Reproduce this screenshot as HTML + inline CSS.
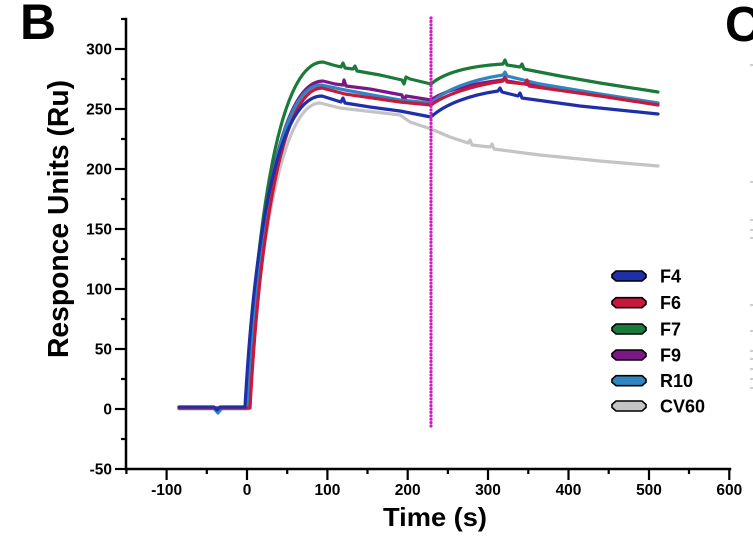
<!DOCTYPE html>
<html>
<head>
<meta charset="utf-8">
<style>
html,body{margin:0;padding:0;background:#fff;}
svg{display:block;}
text{font-family:"Liberation Sans",Arial,sans-serif;font-weight:bold;fill:#000;}
</style>
</head>
<body>
<svg width="753" height="536" viewBox="0 0 753 536" xmlns="http://www.w3.org/2000/svg">
<rect x="0" y="0" width="753" height="536" fill="#fff"/>

<!-- panel letters -->
<text x="20" y="39" font-size="50">B</text>
<text x="725" y="41" font-size="49">C</text>

<!-- faint marks of next panel -->
<g fill="#cfcfcf">
<rect x="750" y="64" width="3" height="2"/>
<rect x="750" y="181" width="3" height="2"/>
<rect x="750" y="219" width="3" height="2"/>
<rect x="750" y="229" width="3" height="2"/>
<rect x="750" y="237" width="3" height="2"/>
<rect x="750" y="304" width="3" height="2"/>
<rect x="750" y="330" width="3" height="2"/>
<rect x="750" y="350" width="3" height="2"/>
<rect x="750" y="358" width="3" height="2"/>
<rect x="750" y="368" width="3" height="2"/>
<rect x="750" y="378" width="3" height="2"/>
<rect x="750" y="387" width="3" height="2"/>
</g>

<!-- axes -->
<g stroke="#000" stroke-width="2.5" fill="none" stroke-linecap="square">
<line x1="126" y1="19" x2="126" y2="469"/>
<line x1="126" y1="469" x2="730" y2="469"/>
</g>
<!-- y ticks -->
<g stroke="#000" stroke-width="2.2">
<line x1="115" y1="49" x2="126" y2="49"/>
<line x1="115" y1="109" x2="126" y2="109"/>
<line x1="115" y1="169" x2="126" y2="169"/>
<line x1="115" y1="229" x2="126" y2="229"/>
<line x1="115" y1="289" x2="126" y2="289"/>
<line x1="115" y1="349" x2="126" y2="349"/>
<line x1="115" y1="409" x2="126" y2="409"/>
<line x1="115" y1="469" x2="126" y2="469"/>
<line x1="121" y1="19" x2="126" y2="19"/>
<line x1="121" y1="79" x2="126" y2="79"/>
<line x1="121" y1="139" x2="126" y2="139"/>
<line x1="121" y1="199" x2="126" y2="199"/>
<line x1="121" y1="259" x2="126" y2="259"/>
<line x1="121" y1="319" x2="126" y2="319"/>
<line x1="121" y1="379" x2="126" y2="379"/>
<line x1="121" y1="439" x2="126" y2="439"/>
</g>
<!-- x ticks -->
<g stroke="#000" stroke-width="2.2">
<line x1="166.6" y1="469" x2="166.6" y2="480"/>
<line x1="247" y1="469" x2="247" y2="480"/>
<line x1="327.4" y1="469" x2="327.4" y2="480"/>
<line x1="407.7" y1="469" x2="407.7" y2="480"/>
<line x1="488" y1="469" x2="488" y2="480"/>
<line x1="568.5" y1="469" x2="568.5" y2="480"/>
<line x1="649" y1="469" x2="649" y2="480"/>
<line x1="729.3" y1="469" x2="729.3" y2="480"/>
<line x1="126.4" y1="469" x2="126.4" y2="474"/>
<line x1="206.8" y1="469" x2="206.8" y2="474"/>
<line x1="287.2" y1="469" x2="287.2" y2="474"/>
<line x1="367.5" y1="469" x2="367.5" y2="474"/>
<line x1="447.9" y1="469" x2="447.9" y2="474"/>
<line x1="528.3" y1="469" x2="528.3" y2="474"/>
<line x1="608.7" y1="469" x2="608.7" y2="474"/>
<line x1="689" y1="469" x2="689" y2="474"/>
</g>

<!-- y tick labels -->
<g font-size="15.5" text-anchor="end">
<text x="112" y="54.5">300</text>
<text x="112" y="114.5">250</text>
<text x="112" y="174.5">200</text>
<text x="112" y="234.5">150</text>
<text x="112" y="294.5">100</text>
<text x="112" y="354.5">50</text>
<text x="112" y="414.5">0</text>
<text x="112" y="474.5">-50</text>
</g>
<!-- x tick labels -->
<g font-size="15.5" text-anchor="middle">
<text x="166.6" y="495">-100</text>
<text x="247" y="495">0</text>
<text x="327.4" y="495">100</text>
<text x="407.7" y="495">200</text>
<text x="488" y="495">300</text>
<text x="568.5" y="495">400</text>
<text x="649" y="495">500</text>
<text x="729.3" y="495">600</text>
</g>

<!-- axis titles -->
<text x="383" y="526" font-size="26" textLength="104" lengthAdjust="spacingAndGlyphs">Time (s)</text>
<text transform="translate(68,358) rotate(-90)" x="0" y="0" font-size="29" textLength="278" lengthAdjust="spacingAndGlyphs">Responce Units (Ru)</text>

<!-- series -->
<g fill="none" stroke-width="3.2" stroke-linejoin="round" stroke-linecap="round">
<path stroke="#c4c4c4" d="M179,409 L214,409 L217,412 L220,409 L248,409 C257,267 279,103 320,103 L340,108 L400,115 L410,122 L431,129 L450,137 L468,143 L470,140 L472,145 L490,147 L492,144 L494,149 L540,155 L600,161 L658,166"/>
<path stroke="#1b7a3a" d="M179,408 L247,408 C255,248 275,62 323,62 L333,65 L341,67 L343,63 L345,68 L353,69 L355,66 L357,71 L380,75 L402,80 L404,84 L406,77 L410,79 L431,84 C445,72 470,66 503,64 L505,60 L507,65 L520,67 L522,64 L524,69 L560,76 L600,83 L658,92"/>
<path stroke="#7b1787" d="M179,408 L247,408 C255,257 275,81 323,81 L335,84 L343,85 L344,80 L346,86 L370,89 L402,95 L404,102 L406,96 L431,100 C445,90 470,84 503,80 L505,77 L507,81 L560,90 L658,104"/>
<path stroke="#2e86c1" d="M179,408 L214,408 L218,413 L222,408 L247,408 C255,259 275,85 321,85 L345,90 L400,100 L431,103 C445,90 470,80 503,75 L505,72 L507,76 L540,84 L600,94 L658,103"/>
<path stroke="#c8183c" d="M179,408 L250,408 C258,261 278,88 322,88 L345,94 L400,102 L431,105 C445,95 470,86 503,81 L505,78 L507,82 L525,84 L527,80 L529,86 L600,96 L658,105"/>
<path stroke="#1f2fa8" d="M179,407 L214,407 L217,410 L220,407 L245,407 C253,264 273,96 322,96 L341,102 L343,98 L345,103 L370,107 L400,111 L431,117 C445,104 470,95 498,91 L500,88 L502,92 L518,96 L520,93 L522,98 L580,106 L658,114"/>
</g>

<!-- dotted injection line -->
<line x1="431" y1="18" x2="431" y2="429" stroke="#d21cbf" stroke-width="3.2" stroke-linecap="round" stroke-dasharray="0 3.4"/>

<!-- legend -->
<g stroke="#000" stroke-width="1.6">
<polygon fill="#1f2fa8" points="616,271 642,271 646,274.5 646,277.5 642,281 616,281 612,277.5 612,274.5"/>
<polygon fill="#c8183c" points="616,297.7 642,297.7 646,301.2 646,304.2 642,307.7 616,307.7 612,304.2 612,301.2"/>
<polygon fill="#1b7a3a" points="616,324 642,324 646,327.5 646,330.5 642,334 616,334 612,330.5 612,327.5"/>
<polygon fill="#7b1787" points="616,350 642,350 646,353.5 646,356.5 642,360 616,360 612,356.5 612,353.5"/>
<polygon fill="#2e86c1" points="616,375.7 642,375.7 646,379.2 646,382.2 642,385.7 616,385.7 612,382.2 612,379.2"/>
<polygon fill="#c4c4c4" points="616,401 642,401 646,404.5 646,407.5 642,411 616,411 612,407.5 612,404.5"/>
</g>
<g font-size="18">
<text x="660" y="282.5">F4</text>
<text x="660" y="309">F6</text>
<text x="660" y="335.5">F7</text>
<text x="660" y="361.5">F9</text>
<text x="660" y="387">R10</text>
<text x="660" y="412.5">CV60</text>
</g>
</svg>
</body>
</html>
